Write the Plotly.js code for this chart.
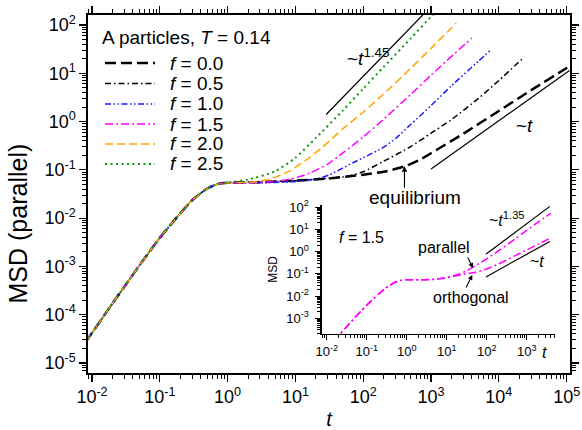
<!DOCTYPE html>
<html>
<head>
<meta charset="utf-8">
<script src="https://cdn.plot.ly/plotly-3.0.1.min.js"></script>
<style>
  html, body { margin: 0; padding: 0; background: #fff; }
  #chart { width: 582px; height: 430px; }
</style>
</head>
<body>
<div id="chart"></div>
<script>
// Parallel mean-squared displacement of A particles at T = 0.14 under driving force f.

// Short-time (ballistic -> plateau) regime, shared by every curve
const tShort   = [0.008, 0.01, 0.02, 0.03, 0.05, 0.07, 0.1, 0.15, 0.2, 0.3, 0.5, 0.7, 1];
const msdShort = [2.7e-5, 4.2e-5, 1.7e-4, 3.8e-4, 1.05e-3, 2.0e-3, 3.9e-3, 7.8e-3, 1.25e-2, 2.35e-2, 4.1e-2, 5.05e-2, 5.4e-2];

// Long-time part of each curve
const tF00   = [3, 10, 30, 100, 200, 400, 700, 1000, 3000, 1e4, 3e4, 1e5, 1.2e5];
const msdF00 = [0.0556, 0.0596, 0.0661, 0.0794, 0.0912, 0.117, 0.165, 0.221, 0.562, 1.66, 4.47, 12.9, 15.1];

const tF05   = [10, 30, 60, 100, 200, 500, 1000, 2000, 5000, 1e4, 23800];
const msdF05 = [0.0596, 0.0665, 0.0741, 0.0912, 0.151, 0.302, 0.575, 1.10, 3.02, 7.08, 21.9];

const tF10   = [4, 10, 20, 32, 70, 100, 200, 300, 500, 1000, 2000, 5000, 7700];
const msdF10 = [0.0543, 0.0575, 0.0646, 0.0794, 0.140, 0.178, 0.295, 0.447, 0.871, 2.14, 5.50, 17.8, 30.9];

const tF15   = [2, 4, 8, 16, 30, 50, 100, 200, 500, 1000, 2000, 4000];
const msdF15 = [0.0543, 0.0562, 0.063, 0.085, 0.132, 0.224, 0.479, 1.12, 3.63, 9.12, 22.4, 53.7];

const tF20   = [2, 4, 8, 16, 25, 50, 100, 200, 500, 1000, 2000, 2350];
const msdF20 = [0.055, 0.063, 0.093, 0.178, 0.295, 0.708, 1.58, 3.72, 12.6, 33.1, 87, 110];

const tF25   = [2, 5, 10, 20, 50, 100, 200, 500, 1000, 1200];
const msdF25 = [0.063, 0.093, 0.178, 0.457, 1.70, 4.79, 13.5, 52.5, 148, 190];

// Orthogonal MSD at f = 1.5 (inset)
const tOrth   = [2, 4, 8, 16, 30, 50, 100, 200, 500, 1000, 2000, 4000];
const msdOrth = [0.0543, 0.0562, 0.063, 0.0794, 0.1, 0.117, 0.166, 0.282, 0.646, 1.20, 2.24, 4.17];

// Power-law guides
const tGuide145   = [28.4, 760];
const msdGuide145 = [1.40, 163];
const tGuide1     = [1000, 110000];
const msdGuide1   = [0.104, 11.4];
const tGuide135   = [95.5, 3800];
const msdGuide135 = [0.764, 110];
const tGuideIn1   = [95.5, 3800];
const msdGuideIn1 = [0.073, 2.9];

const fLabels = ['0.0', '0.5', '1.0', '1.5', '2.0', '2.5'];

// Axis ticks
const mainXTicks = [1e-2, 1e-1, 1e0, 1e1, 1e2, 1e3, 1e4, 1e5];
const mainXText  = ['10<sup>-2</sup>', '10<sup>-1</sup>', '10<sup>0</sup>', '10<sup>1</sup>', '10<sup>2</sup>', '10<sup>3</sup>', '10<sup>4</sup>', '10<sup>5</sup>'];
const mainYTicks = [1e-5, 1e-4, 1e-3, 1e-2, 1e-1, 1e0, 1e1, 1e2];
const mainYText  = ['10<sup>-5</sup>', '10<sup>-4</sup>', '10<sup>-3</sup>', '10<sup>-2</sup>', '10<sup>-1</sup>', '10<sup>0</sup>', '10<sup>1</sup>', '10<sup>2</sup>'];
const insetXTicks = [1e-2, 1e-1, 1e0, 1e1, 1e2, 1e3];
const insetXText  = ['10<sup>-2</sup>', '10<sup>-1</sup>', '10<sup>0</sup>', '10<sup>1</sup>', '10<sup>2</sup>', '10<sup>3</sup>'];
const insetYTicks = [1e-3, 1e-2, 1e-1, 1e0, 1e1, 1e2];
const insetYText  = ['10<sup>-3</sup>', '10<sup>-2</sup>', '10<sup>-1</sup>', '10<sup>0</sup>', '10<sup>1</sup>', '10<sup>2</sup>'];

// ---- styling ----
const lineStyles = [
  { color: '#000000', dash: '11px,5px', width: 2.5 },
  { color: '#000000', dash: '6px,3px,1.5px,3px', width: 1.5 },
  { color: '#1a1aff', dash: '6px,2.5px,1.5px,2.5px,1.5px,2.5px', width: 1.5 },
  { color: '#ff00ff', dash: '8px,3px,2px,3px', width: 1.5 },
  { color: '#ffa500', dash: '8px,4px', width: 1.5 },
  { color: '#119911', dash: '2px,3.5px', width: 2 }
];

const curves = [
  [tF00, msdF00], [tF05, msdF05], [tF10, msdF10],
  [tF15, msdF15], [tF20, msdF20], [tF25, msdF25]
];

const traces = curves.map(([t, m], i) => ({
  type: 'scatter', mode: 'lines',
  x: tShort.concat(t), y: msdShort.concat(m),
  xaxis: 'x', yaxis: 'y',
  name: 'f = ' + fLabels[i],
  line: { color: lineStyles[i].color, dash: lineStyles[i].dash, width: lineStyles[i].width, shape: 'spline', smoothing: 0.6 },
  hoverinfo: 'skip'
}));

const guide = (x, y, xa, ya) => ({
  type: 'scatter', mode: 'lines', x: x, y: y, xaxis: xa, yaxis: ya,
  line: { color: '#000', width: 1.2 }, hoverinfo: 'skip', showlegend: false
});

traces.push(guide(tGuide145, msdGuide145, 'x', 'y'));
traces.push(guide(tGuide1, msdGuide1, 'x', 'y'));

// Inset: parallel vs orthogonal at f = 1.5
traces.push({
  type: 'scatter', mode: 'lines',
  x: tShort.concat(tF15), y: msdShort.concat(msdF15),
  xaxis: 'x2', yaxis: 'y2', name: 'parallel',
  line: { color: '#ff00ff', dash: '8px,3px,2px,3px', width: 1.5, shape: 'spline', smoothing: 0.6 }, hoverinfo: 'skip'
});
traces.push({
  type: 'scatter', mode: 'lines',
  x: tShort.concat(tOrth), y: msdShort.concat(msdOrth),
  xaxis: 'x2', yaxis: 'y2', name: 'orthogonal',
  line: { color: '#ff00ff', dash: '8px,3px,2px,3px', width: 1.5, shape: 'spline', smoothing: 0.6 }, hoverinfo: 'skip'
});
traces.push(guide(tGuide135, msdGuide135, 'x2', 'y2'));
traces.push(guide(tGuideIn1, msdGuideIn1, 'x2', 'y2'));

const FONT = 'Liberation Sans, Arial, Helvetica, sans-serif';

const minorTicks = (len) => ({ ticks: 'outside', ticklen: len, tickwidth: 1, tickcolor: '#000', dtick: 'D1', showgrid: false });

const mainAxis = (range, vals, text) => ({
  type: 'log', range: range,
  showline: true, linecolor: '#000', linewidth: 1.6, mirror: 'allticks',
  ticks: 'outside', ticklen: 7, tickwidth: 1.2, tickcolor: '#000',
  tickmode: 'array', tickvals: vals, ticktext: text,
  tickfont: { size: 18, color: '#000' },
  showgrid: false, zeroline: false,
  minor: minorTicks(4)
});

const insetAxis = (range, vals, text) => ({
  type: 'log', range: range,
  showline: true, linecolor: '#000', linewidth: 1.4, mirror: false,
  ticks: 'outside', ticklen: 5, tickwidth: 1.1, tickcolor: '#000',
  tickmode: 'array', tickvals: vals, ticktext: text,
  tickfont: { size: 13, color: '#000' },
  showgrid: false, zeroline: false,
  minor: minorTicks(3)
});

const xaxis = mainAxis([-2.059, 5.049], mainXTicks, mainXText);
xaxis.domain = [0, 1]; xaxis.anchor = 'y';
xaxis.title = { text: '<i>t</i>', font: { size: 20, color: '#000' }, standoff: 9 };

const yaxis = mainAxis([-5.207, 2.207], mainYTicks, mainYText);
yaxis.domain = [0, 1]; yaxis.anchor = 'x';

const xaxis2 = insetAxis([-2.125, 3.708], insetXTicks, insetXText);
xaxis2.domain = [0.4849, 0.9689]; xaxis2.anchor = 'y2';

const yaxis2 = insetAxis([-3.707, 2.104], insetYTicks, insetYText);
yaxis2.domain = [0.1089, 0.4693]; yaxis2.anchor = 'x2';
yaxis2.ticklabelstandoff = 4;
yaxis2.title = { text: 'MSD', font: { size: 12, color: '#000' }, standoff: 6 };

// Text labels
const txt = (text, x, y, size, xanchor) => ({
  text: text, xref: 'paper', yref: 'paper', x: x, y: y,
  xanchor: xanchor || 'center', yanchor: 'middle', showarrow: false,
  font: { size: size, color: '#000', family: FONT }
});

const legendRows = [0.8659, 0.8087, 0.7514, 0.6955, 0.6397, 0.5838];

const annotations = [
  txt('A particles, <i>T</i> = 0.14', 0.0249, 0.9385, 19, 'left'),
  txt('~<i>t</i><sup>1.45</sup>', 0.533, 0.884, 19, 'left'),
  txt('~<i>t</i>', 0.9046, 0.6927, 19),
  txt('equilibrium', 0.6774, 0.4916, 19),
  txt('<i>f</i> = 1.5', 0.5166, 0.3771, 16, 'left'),
  txt('parallel', 0.7376, 0.3492, 16),
  txt('orthogonal', 0.7946, 0.2095, 16),
  txt('~<i>t</i><sup>1.35</sup>', 0.8278, 0.4302, 16, 'left'),
  txt('~<i>t</i>', 0.9305, 0.3101, 16),
  txt('<i>t</i>', 0.9481, 0.0559, 16),
  {
    text: 'MSD (parallel)', xref: 'paper', yref: 'paper', x: -0.145, y: 0.418,
    xanchor: 'center', yanchor: 'middle', textangle: -90, showarrow: false,
    font: { size: 25, color: '#000', family: FONT }
  },
  // arrows
  { text: '', xref: 'x', yref: 'y', x: 2.608, y: -0.925, ax: 0, ay: 23, showarrow: true,
    arrowhead: 2, arrowsize: 1, arrowwidth: 1.1, arrowcolor: '#000', standoff: 0 },
  { text: '', xref: 'x2', yref: 'y2', x: 1.657, y: -0.734, ax: -6, ay: -12, showarrow: true,
    arrowhead: 2, arrowsize: 0.9, arrowwidth: 1.1, arrowcolor: '#000', standoff: 0 },
  { text: '', xref: 'x2', yref: 'y2', x: 1.64, y: -1.05, ax: -7, ay: 14, showarrow: true,
    arrowhead: 2, arrowsize: 0.9, arrowwidth: 1.1, arrowcolor: '#000', standoff: 0 }
];

const shapes = [];
fLabels.forEach((lab, i) => {
  annotations.push(txt('<i>f</i> = ' + lab, 0.166, legendRows[i], 19, 'left'));
  shapes.push({
    type: 'line', xref: 'paper', yref: 'paper',
    x0: 0.0353, x1: 0.139, y0: legendRows[i], y1: legendRows[i],
    line: { color: lineStyles[i].color, dash: lineStyles[i].dash, width: lineStyles[i].width }
  });
});

const layout = {
  width: 582, height: 430,
  margin: { l: 88, r: 12, t: 15, b: 57, pad: 0 },
  paper_bgcolor: '#fff', plot_bgcolor: '#fff',
  font: { family: FONT, color: '#000' },
  showlegend: false,
  xaxis: xaxis, yaxis: yaxis, xaxis2: xaxis2, yaxis2: yaxis2,
  annotations: annotations,
  shapes: shapes
};

Plotly.newPlot('chart', traces, layout, { staticPlot: true, displayModeBar: false });
</script>
</body>
</html>
